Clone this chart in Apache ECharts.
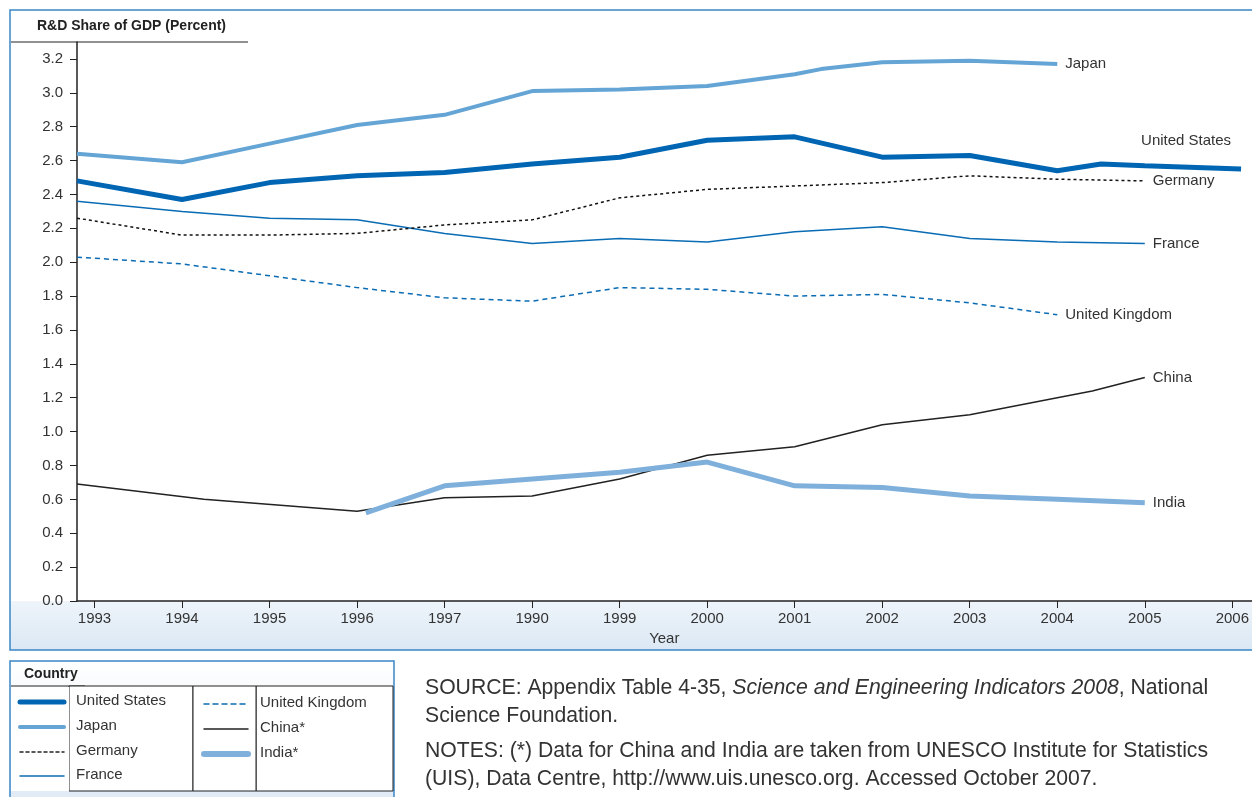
<!DOCTYPE html>
<html>
<head>
<meta charset="utf-8">
<script src="https://cdn.jsdelivr.net/npm/echarts@6/dist/echarts.min.js"></script>
<style>
html, body { margin: 0; padding: 0; background: #fff; }
#chart { width: 1252px; height: 797px; }
</style>
</head>
<body>
<div id="chart"></div>
<script>
// tick labels, as printed on the source (including the "1990")
var yearLabels = ['1993', '1994', '1995', '1996', '1997', '1990', '1999', '2000', '2001', '2002', '2003', '2004', '2005', '2006']
var tickPos = [0, 1, 2, 3, 4, 5, 6, 7, 8, 9, 10, 11, 12, 13]

// [position on year axis, percent]
var usData = [[-0.2, 2.48], [1, 2.37], [2, 2.47], [3, 2.51], [4, 2.53], [5, 2.58], [6, 2.62], [7, 2.72], [8, 2.74], [9, 2.62], [10, 2.63], [11, 2.54], [11.5, 2.58], [12, 2.57], [13.1, 2.55]]
var japanData = [[-0.2, 2.64], [1, 2.59], [2, 2.70], [3, 2.81], [4, 2.87], [5, 3.01], [6, 3.02], [7, 3.04], [8, 3.11], [8.3, 3.14], [9, 3.18], [10, 3.19], [11, 3.17]]
var germanyData = [[-0.2, 2.26], [1, 2.16], [2, 2.16], [3, 2.17], [4, 2.22], [5, 2.25], [6, 2.38], [7, 2.43], [8, 2.45], [9, 2.47], [10, 2.51], [11, 2.49], [12, 2.48]]
var franceData = [[-0.2, 2.36], [1, 2.30], [2, 2.26], [3, 2.25], [4, 2.17], [5, 2.11], [6, 2.14], [7, 2.12], [8, 2.18], [9, 2.21], [10, 2.14], [11, 2.12], [12, 2.11]]
var ukData = [[-0.2, 2.03], [1, 1.99], [2, 1.92], [3, 1.85], [4, 1.79], [5, 1.77], [6, 1.85], [7, 1.84], [8, 1.80], [9, 1.81], [10, 1.76], [11, 1.69]]
var chinaData = [[-0.2, 0.69], [1.25, 0.60], [3, 0.53], [4, 0.61], [5, 0.62], [6, 0.72], [7, 0.86], [8, 0.91], [9, 1.04], [10, 1.10], [11, 1.20], [11.4, 1.24], [12, 1.32]]
var indiaData = [[3.1, 0.52], [4, 0.68], [5, 0.72], [6, 0.76], [7, 0.82], [8, 0.68], [9, 0.67], [10, 0.62], [11, 0.60], [12, 0.58]]

var myChart = echarts.init(document.getElementById('chart'))
var font = 'Liberation Sans, Arial, sans-serif'

function mk(name, data, color, width, type, label, off) {
    return {
        name: name, type: 'line', data: data, showSymbol: false, silent: true,
        lineStyle: { color: color, width: width, type: type },
        endLabel: { show: true, formatter: label, color: '#333', fontSize: 15, fontFamily: font, offset: off || [0, 0] },
        z: 3
    }
}

// legend drawn as graphic
var legendItems = []
function legLine(x, y, color, w, dash, text) {
    legendItems.push({ type: 'line', shape: { x1: x, y1: y, x2: x + 44, y2: y }, style: { stroke: color, lineWidth: w, lineDash: dash, lineCap: 'round' } })
    legendItems.push({ type: 'text', x: x + 56, y: y - 9, style: { text: text, fill: '#333', fontSize: 15, fontFamily: font } })
}
legLine(20, 702, '#0066b3', 5, null, 'United States')
legLine(20, 727, '#64a5d6', 4, null, 'Japan')
legLine(20, 752, '#222', 1.5, [3, 3], 'Germany')
legLine(20, 776, '#0a6cb4', 1.5, null, 'France')
legLine(204, 704, '#0a6cb4', 1.5, [5, 4], 'United Kingdom')
legLine(204, 729, '#222', 1.5, null, 'China*')
legLine(204, 754, '#7fb0dc', 6, null, 'India*')

myChart.setOption({
    animation: false,
    grid: { left: 77, right: 0, top: 42, bottom: 196 },
    xAxis: {
        type: 'value', min: -0.2, max: 13.22,
        name: 'Year', nameLocation: 'middle', nameGap: 28,
        nameTextStyle: { color: '#333', fontSize: 15, fontFamily: font },
        axisLine: { onZero: false, lineStyle: { color: '#222', width: 1.5 } },
        axisTick: { length: 7, customValues: tickPos, lineStyle: { color: '#222' } },
        axisLabel: {
            color: '#333', fontSize: 15, fontFamily: font, margin: 10,
            customValues: tickPos,
            formatter: function (v) { return yearLabels[Math.round(v)] || '' }
        },
        splitLine: { show: false }
    },
    yAxis: {
        type: 'value', min: 0, max: 3.3, interval: 0.2,
        axisLine: { show: true, onZero: false, lineStyle: { color: '#222', width: 1.5 } },
        axisTick: { show: true, length: 7, lineStyle: { color: '#222' } },
        axisLabel: {
            color: '#333', fontSize: 15, fontFamily: font, margin: 14, showMaxLabel: false,
            formatter: function (v) { return v > 3.25 ? '' : v.toFixed(1) }
        },
        splitLine: { show: false }
    },
    graphic: [
        { type: 'rect', shape: { x: 10, y: 601, width: 1242, height: 49 }, style: { fill: new echarts.graphic.LinearGradient(0, 0, 0, 1, [{ offset: 0, color: '#eef4fa' }, { offset: 1, color: '#dbe8f4' }]) }, z: -2 },
        { type: 'rect', shape: { x: 10, y: 10, width: 1250, height: 640 }, style: { fill: 'none', stroke: '#3a86c8', lineWidth: 1.5 }, z: -1 },
        { type: 'text', x: 37, y: 19, style: { text: 'R&D Share of GDP (Percent)', fill: '#222', fontSize: 14, fontWeight: 'bold', fontFamily: font } },
        { type: 'line', shape: { x1: 11, y1: 42, x2: 248, y2: 42 }, style: { stroke: '#222', lineWidth: 1 } },
        // legend box
        { type: 'rect', shape: { x: 10, y: 661, width: 384, height: 140 }, style: { fill: new echarts.graphic.LinearGradient(0, 0, 0, 1, [{ offset: 0, color: '#ffffff' }, { offset: 1, color: '#dfeaf5' }]), stroke: '#3a86c8', lineWidth: 1.5 } },
        { type: 'polyline', shape: { points: [[11, 686], [85, 686]] }, style: { stroke: '#222', lineWidth: 1 } },
        { type: 'rect', shape: { x: 69, y: 686, width: 124, height: 105 }, style: { fill: '#fff', stroke: '#222', lineWidth: 1 } },
        { type: 'rect', shape: { x: 256, y: 686, width: 137, height: 105 }, style: { fill: '#fff', stroke: '#222', lineWidth: 1 } },
        { type: 'rect', shape: { x: 193, y: 686, width: 63, height: 105 }, style: { fill: '#fff', stroke: '#222', lineWidth: 1 } },
        { type: 'rect', shape: { x: 11, y: 687, width: 58, height: 104 }, style: { fill: '#fff' } },
        { type: 'text', x: 24, y: 667, style: { text: 'Country', fill: '#222', fontSize: 14, fontWeight: 'bold', fontFamily: font } },
        { type: 'group', children: legendItems, z: 10 },
        // notes
        { type: 'text', x: 425, y: 674, style: {
            text: '{n|SOURCE: Appendix Table 4-35, }{i|Science and Engineering Indicators 2008}{n|, National}\n{n|Science Foundation.}',
            rich: { n: { fontSize: 21.2, fill: '#333', fontFamily: font, lineHeight: 28 }, i: { fontSize: 21.2, fill: '#333', fontStyle: 'italic', fontFamily: font, lineHeight: 28 } }
        } },
        { type: 'text', x: 425, y: 737, style: {
            text: 'NOTES: (*) Data for China and India are taken from UNESCO Institute for Statistics\n(UIS), Data Centre, http://www.uis.unesco.org. Accessed October 2007.',
            fill: '#333', fontSize: 21.2, lineHeight: 28, fontFamily: font
        } }
    ],
    series: [
        mk('United Kingdom', ukData, '#0a6cb4', 1.5, [5, 4], 'United Kingdom'),
        mk('France', franceData, '#0a6cb4', 1.5, 'solid', 'France'),
        mk('Germany', germanyData, '#111', 1.5, [3, 3], 'Germany'),
        mk('China', chinaData, '#222', 1.5, 'solid', 'China'),
        mk('India', indiaData, '#7fb0dc', 5, 'solid', 'India'),
        mk('Japan', japanData, '#64a5d6', 4, 'solid', 'Japan'),
        mk('United States', usData, '#0066b3', 5, 'solid', 'United States', [-108, -28])
    ]
})
</script>
</body>
</html>
